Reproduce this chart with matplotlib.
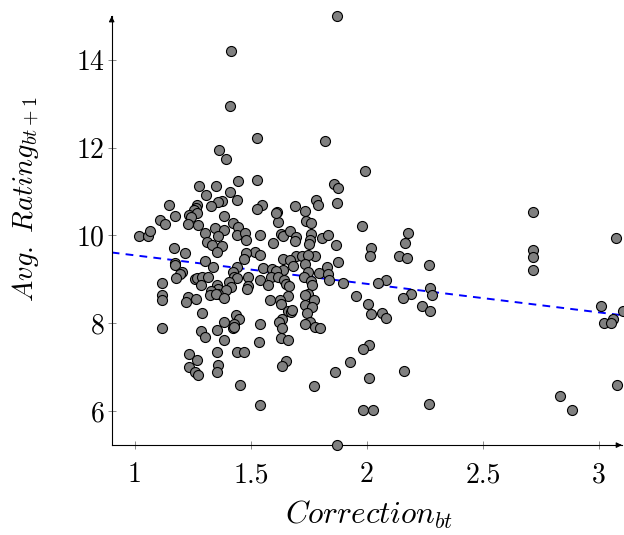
import numpy as np
import matplotlib
matplotlib.use("Agg")
import matplotlib.pyplot as plt

plt.rcParams['mathtext.fontset'] = 'cm'
plt.rcParams['font.family'] = 'serif'
plt.rcParams['font.serif'] = ['cmr10', 'DejaVu Serif']
plt.rcParams['axes.formatter.use_mathtext'] = True

# Correction_bt vs Avg. Rating_bt+1
correction = [
    1.871, 1.414, 1.410, 1.528, 1.821, 1.364, 1.393, 1.993, 1.528, 1.445,
    1.278, 1.350, 1.857, 1.874, 1.409, 1.307, 1.374, 1.357, 1.440, 1.781,
    1.788, 1.872, 1.148, 1.548, 1.690, 1.328, 1.269, 1.262, 1.255, 1.528,
    1.733, 1.614, 2.716, 1.233, 1.266, 1.240, 1.172, 1.386, 1.109, 1.129,
    1.228, 1.271, 1.422, 1.616, 1.607, 1.738, 1.760, 1.445, 1.979, 1.347,
    1.384, 1.303, 2.176, 1.016, 1.055, 1.066, 1.357, 1.438, 1.476, 1.540,
    1.628, 1.638, 1.667, 1.760, 1.693, 1.690, 1.478, 1.755, 1.752, 1.805,
    1.833, 1.309, 1.597, 2.164, 1.867, 1.334, 1.374, 2.017, 1.167, 1.519,
    1.352, 2.716, 1.214, 1.478, 1.538, 1.693, 1.721, 1.776, 1.748, 2.014,
    2.140, 2.171, 2.716, 1.472, 1.640, 1.667, 1.303, 1.874, 1.683, 1.731,
    1.174, 1.174, 2.266, 1.338, 1.440, 1.552, 1.829, 1.591, 1.640, 2.716,
    1.609, 1.748, 1.205, 1.193, 1.422, 1.793, 1.831, 1.428, 1.586, 1.617,
    1.441, 1.486, 1.728, 1.257, 1.269, 1.288, 1.314, 1.178, 1.836, 2.084,
    1.641, 1.541, 1.760, 2.048, 1.116, 1.407, 1.650, 1.897, 1.286, 1.572,
    1.353, 1.488, 1.485, 2.274, 1.414, 1.666, 1.764, 1.359, 1.393, 1.328,
    1.324, 1.360, 1.350, 2.191, 2.281, 1.746, 1.660, 1.734, 1.116, 1.953,
    1.231, 1.383, 2.157, 1.116, 1.262, 1.583, 1.624, 1.774, 1.221, 1.631,
    2.003, 1.733, 1.764, 2.238, 3.010, 1.660, 1.672, 1.676, 2.271, 3.103,
    1.740, 1.288, 2.016, 2.067, 2.083, 1.436, 1.447, 3.062, 1.633, 3.021,
    3.053, 1.384, 1.755, 1.541, 1.621, 1.426, 1.731, 1.421, 1.426, 1.117,
    1.355, 1.636, 1.776, 1.797, 1.284, 1.302, 1.384, 1.629, 1.662, 1.534,
    2.010, 1.983, 1.438, 1.471, 1.353, 1.234, 1.266, 1.650, 1.926, 1.359,
    1.233, 1.636, 1.257, 1.271, 1.352, 1.862, 2.162, 2.009, 1.453, 1.774,
    3.076, 2.833, 1.541, 2.266, 1.984, 2.028, 2.886, 3.074, 1.871,
]
avg_rating = [
    15.01, 14.21, 12.95, 12.23, 12.14, 11.94, 11.73, 11.46, 11.27, 11.23,
    11.12, 11.13, 11.16, 11.09, 10.98, 10.91, 10.79, 10.76, 10.81, 10.80,
    10.70, 10.74, 10.70, 10.69, 10.67, 10.67, 10.70, 10.63, 10.57, 10.60,
    10.56, 10.54, 10.53, 10.46, 10.50, 10.41, 10.45, 10.43, 10.36, 10.25,
    10.26, 10.23, 10.29, 10.31, 10.50, 10.33, 10.29, 10.19, 10.22, 10.16,
    10.12, 10.05, 10.05, 9.98, 9.98, 10.09, 9.98, 10.01, 10.05, 10.00,
    10.03, 9.99, 10.09, 10.04, 9.96, 9.88, 9.90, 9.90, 9.80, 9.95,
    10.01, 9.85, 9.83, 9.82, 9.79, 9.78, 9.75, 9.72, 9.72, 9.63,
    9.61, 9.67, 9.59, 9.60, 9.55, 9.53, 9.53, 9.54, 9.56, 9.54,
    9.53, 9.48, 9.51, 9.46, 9.47, 9.43, 9.42, 9.40, 9.30, 9.34,
    9.37, 9.33, 9.33, 9.29, 9.28, 9.26, 9.28, 9.23, 9.20, 9.22,
    9.18, 9.16, 9.16, 9.12, 9.16, 9.15, 9.11, 9.05, 9.06, 9.06,
    9.02, 9.06, 9.05, 9.01, 9.03, 9.05, 9.04, 9.03, 8.99, 8.99,
    8.99, 8.98, 8.97, 8.92, 8.91, 8.93, 8.89, 8.91, 8.88, 8.88,
    8.88, 8.84, 8.77, 8.81, 8.83, 8.85, 8.86, 8.78, 8.75, 8.74,
    8.64, 8.67, 8.66, 8.67, 8.65, 8.67, 8.61, 8.63, 8.64, 8.61,
    8.60, 8.58, 8.57, 8.53, 8.56, 8.53, 8.53, 8.52, 8.49, 8.43,
    8.44, 8.42, 8.37, 8.39, 8.39, 8.28, 8.26, 8.29, 8.28, 8.27,
    8.22, 8.24, 8.20, 8.22, 8.12, 8.18, 8.10, 8.10, 8.09, 8.00,
    8.00, 8.02, 8.02, 7.99, 8.02, 7.98, 7.97, 7.88, 7.91, 7.88,
    7.84, 7.90, 7.91, 7.90, 7.81, 7.68, 7.62, 7.67, 7.61, 7.58,
    7.51, 7.41, 7.35, 7.34, 7.34, 7.29, 7.17, 7.13, 7.11, 7.05,
    7.01, 7.02, 6.88, 6.81, 6.89, 6.88, 6.91, 6.74, 6.60, 6.57,
    6.60, 6.34, 6.14, 6.16, 6.01, 6.01, 6.02, 9.94, 5.22,
]

# fitted trend line
fit_x = [0.9, 3.1]
fit_y = [9.61, 8.18]

x_ticks = [1, 1.5, 2, 2.5, 3]
x_tick_labels = ['1', '1.5', '2', '2.5', '3']
y_ticks = [6, 8, 10, 12, 14]
y_tick_labels = ['6', '8', '10', '12', '14']

fig = plt.figure(figsize=(6.24, 5.35), dpi=100)
ax = fig.add_axes([0.179, 0.168, 0.818, 0.803])

ax.scatter(correction, avg_rating, s=52, c='#808080', edgecolors='black',
           linewidths=0.8, zorder=3, clip_on=False)
ax.plot(fit_x, fit_y, color='blue', linestyle=(0, (4, 3.2)), linewidth=1.4, zorder=2)

ax.set_xlim(0.9, 3.1)
ax.set_ylim(5.22, 15.01)

ax.spines['top'].set_visible(False)
ax.spines['right'].set_visible(False)
for sp in ('left', 'bottom'):
    ax.spines[sp].set_linewidth(0.8)

# arrow heads at the axis ends
ax.annotate('', xy=(1.005, 0), xycoords='axes fraction', xytext=(0.99, 0),
            arrowprops=dict(arrowstyle='-|>', color='black', lw=0.8,
                            mutation_scale=8), annotation_clip=False)
ax.annotate('', xy=(0, 1.005), xycoords='axes fraction', xytext=(0, 0.99),
            arrowprops=dict(arrowstyle='-|>', color='black', lw=0.8,
                            mutation_scale=8), annotation_clip=False)

ax.set_xticks(x_ticks)
ax.set_xticklabels(x_tick_labels)
ax.set_yticks(y_ticks)
ax.set_yticklabels(y_tick_labels)
ax.tick_params(direction='inout', length=6, width=0.6, color='#777777',
               labelsize=20)
ax.tick_params(axis='x', pad=9)
ax.tick_params(axis='y', pad=2)

ax.set_xlabel(r'$Correction_{bt}$', fontsize=22.5)
ax.set_ylabel(r'$Avg.\ Rating_{bt+1}$', fontsize=20.5)
ax.xaxis.set_label_coords(0.504, -0.125)
ax.yaxis.set_label_coords(-0.137, 0.572)

fig.savefig('out.png', dpi=100)
